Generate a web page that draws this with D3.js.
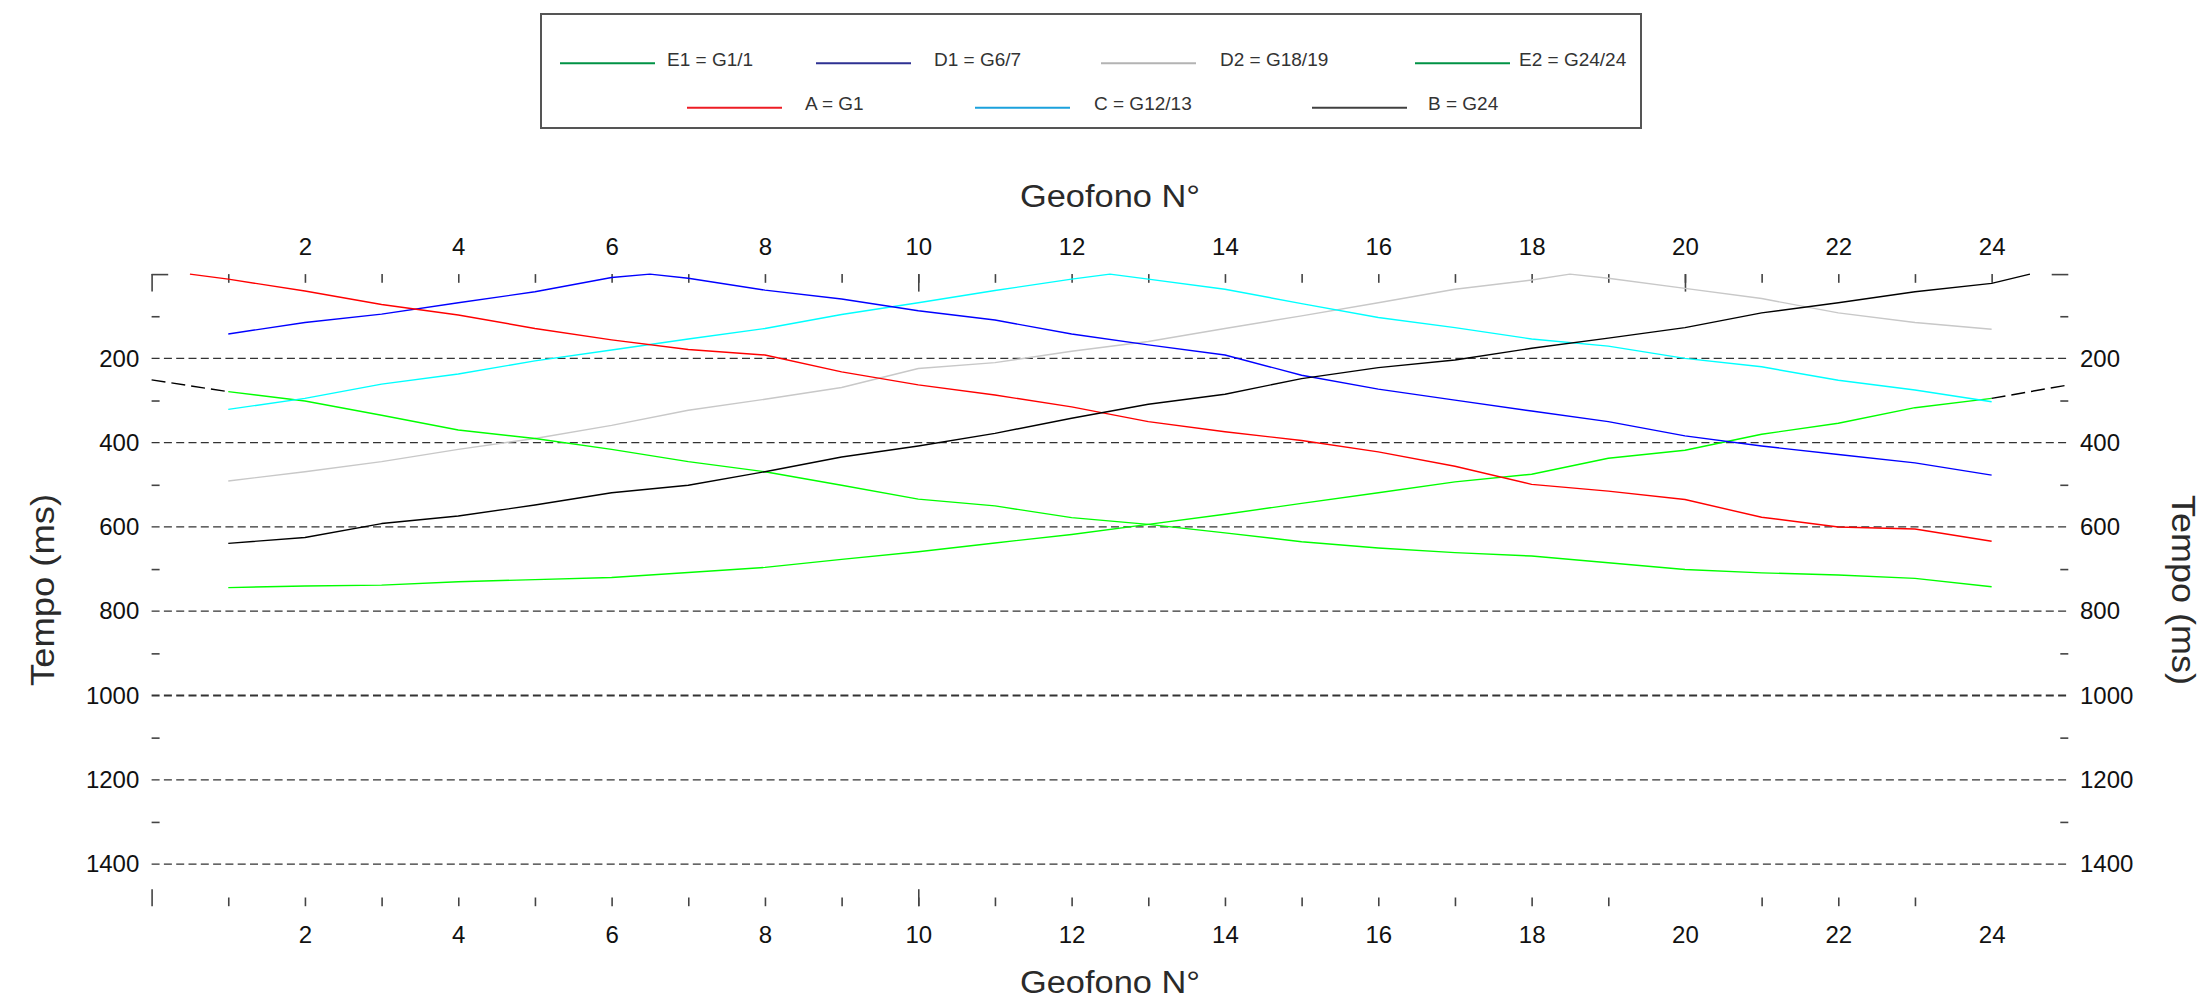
<!DOCTYPE html>
<html>
<head>
<meta charset="utf-8">
<script src="https://cdn.jsdelivr.net/npm/d3@7"></script>
<style>
  html, body { margin: 0; padding: 0; background: #ffffff; }
  svg { display: block; font-family: "Liberation Sans", Arial, sans-serif; }
</style>
</head>
<body>
<svg id="chart" width="2202" height="1001"></svg>
<script>
// ---------------- DATA ----------------
const geofoni = [1,2,3,4,5,6,7,8,9,10,11,12,13,14,15,16,17,18,19,20,21,22,23,24];

// first-arrival times (ms) at geophones 1..24
const timesA  = [12,40,72,97,129,156,179,192,232,263,287,315,350,374,395,422,456,499,515,535,577,600,605,634];
const timesD1 = [142,115,95,68,42,8,10,38,59,87,109,142,168,192,240,273,299,325,350,384,408,428,448,477];
const timesC  = [321,295,261,237,206,180,154,129,96,68,39,12,12,36,70,103,127,154,171,200,220,252,275,303];
const timesD2 = [491,469,445,416,390,359,323,297,269,224,210,183,160,129,99,68,36,14,10,34,58,92,115,131];
const timesB  = [639,625,592,574,548,519,501,469,434,408,378,342,309,285,248,222,204,176,152,127,92,68,42,22];
const timesE1 = [279,301,335,370,390,416,445,469,501,534,550,578,594,614,635,650,661,669,685,701,709,714,722,742];
const timesE2 = [744,740,738,730,725,720,708,696,677,659,638,618,594,570,544,519,493,475,437,418,380,354,317,295];

// shot (source) positions in geophone units, time 0 (null = external shot)
const sourceA  = 0.5;
const sourceD1 = 6.5;
const sourceC  = 12.5;
const sourceD2 = 18.5;
const sourceB  = 24.5;

// dashed extrapolations
const extLeftX  = [0, 1];
const extLeftT  = [251, 279];
const extRightX = [24, 25];
const extRightT = [295, 263];

// legend
const legendRow1Labels = ["E1 = G1/1", "D1 = G6/7", "D2 = G18/19", "E2 = G24/24"];
const legendRow1Colors = ["#009245", "#2e3192", "#b3b3b3", "#009245"];
const legendRow2Labels = ["A = G1", "C = G12/13", "B = G24"];
const legendRow2Colors = ["#ed1c24", "#1ba1dc", "#404040"];

// axes
const xTickLabels = [2,4,6,8,10,12,14,16,18,20,22,24];
const yTickLabels = [200,400,600,800,1000,1200,1400];
const xTitle = "Geofono N°";
const yTitle = "Tempo (ms)";

// ---------------- DRAW ----------------
const svg = d3.select("#chart");
const x = d3.scaleLinear().domain([0, 25]).range([151.6, 2068.3]);
const y = d3.scaleLinear().domain([0, 1500]).range([274.1, 906.2]);

const FONT = 24;
const tickColor = "#444";
const fmt = d3.format("d");

// gridlines
svg.append("g").selectAll("line").data(yTickLabels).join("line")
  .attr("x1", x(0)).attr("x2", x(25))
  .attr("y1", d => y(d)).attr("y2", d => y(d))
  .attr("stroke", "#333").attr("stroke-width", d => d === 1000 ? 1.8 : 1.3)
  .attr("stroke-dasharray", "8,4.3");

function styleAxis(g) {
  g.select(".domain").remove();
  g.selectAll(".tick line").attr("stroke", tickColor).attr("stroke-width", 1.6);
  g.selectAll("text").attr("font-size", FONT).attr("fill", "#111")
    .attr("font-family", "Liberation Sans, Arial, sans-serif");
}

// top axis ticks
const topMinor = d3.range(1, 25);
svg.append("g").attr("transform", `translate(0,${y(0)})`)
  .call(d3.axisTop(x).tickValues(topMinor).tickSize(-8.7).tickFormat(""))
  .call(styleAxis);
svg.append("g").attr("transform", `translate(0,${y(0)})`)
  .call(d3.axisTop(x).tickValues([0, 10, 20]).tickSize(-17.5).tickFormat(""))
  .call(styleAxis);
svg.append("g").attr("transform", `translate(0,${y(0)})`)
  .call(d3.axisTop(x).tickValues(xTickLabels).tickSize(0).tickPadding(19).tickFormat(fmt))
  .call(styleAxis);

// bottom axis ticks
const bottomMinor = d3.range(1, 24).filter(d => d !== 20);
svg.append("g").attr("transform", `translate(0,${y(1500)})`)
  .call(d3.axisBottom(x).tickValues(bottomMinor).tickSize(-8.7).tickFormat(""))
  .call(styleAxis);
svg.append("g").attr("transform", `translate(0,${y(1500)})`)
  .call(d3.axisBottom(x).tickValues([0, 10]).tickSize(-17).tickFormat(""))
  .call(styleAxis);
svg.append("g").attr("transform", `translate(0,${y(1500)})`)
  .call(d3.axisBottom(x).tickValues(xTickLabels).tickSize(0).tickPadding(20).tickFormat(fmt))
  .call(styleAxis);

// left axis
const yMinor = d3.range(100, 1400, 200);
svg.append("g").attr("transform", `translate(${x(0)},0)`)
  .call(d3.axisLeft(y).tickValues(yMinor).tickSize(-8).tickFormat(""))
  .call(styleAxis);
svg.append("g").attr("transform", `translate(${x(0)},0)`)
  .call(d3.axisLeft(y).tickValues([0]).tickSize(-16.6).tickFormat(""))
  .call(styleAxis);
svg.append("g").attr("transform", `translate(${x(0)},0)`)
  .call(d3.axisLeft(y).tickValues(yTickLabels).tickSize(0).tickPadding(12.3).tickFormat(fmt))
  .call(styleAxis);

// right axis
svg.append("g").attr("transform", `translate(${x(25)},0)`)
  .call(d3.axisRight(y).tickValues(yMinor).tickSize(-8).tickFormat(""))
  .call(styleAxis);
svg.append("g").attr("transform", `translate(${x(25)},0)`)
  .call(d3.axisRight(y).tickValues([0]).tickSize(-16.6).tickFormat(""))
  .call(styleAxis);
svg.append("g").attr("transform", `translate(${x(25)},0)`)
  .call(d3.axisRight(y).tickValues(yTickLabels).tickSize(0).tickPadding(11.7).tickFormat(fmt))
  .call(styleAxis);

// series
function buildPoints(times, source) {
  const pts = geofoni.map((g, i) => [g, times[i]]);
  if (source !== null) pts.push([source, 0]);
  return pts.sort((a, b) => a[0] - b[0]);
}
const series = [
  { pts: buildPoints(timesD2, sourceD2), color: "#c8c8c8" },
  { pts: buildPoints(timesE1, null), color: "#00ff00" },
  { pts: buildPoints(timesE2, null), color: "#00ff00" },
  { pts: buildPoints(timesC,  sourceC),  color: "#00ffff" },
  { pts: buildPoints(timesD1, sourceD1), color: "#0000ff" },
  { pts: buildPoints(timesA,  sourceA),  color: "#ff0000" },
  { pts: buildPoints(timesB,  sourceB),  color: "#000000" }
];
const line = d3.line().x(d => x(d[0])).y(d => y(d[1]));
svg.append("g").selectAll("path").data(series).join("path")
  .attr("d", d => line(d.pts))
  .attr("fill", "none")
  .attr("stroke", d => d.color)
  .attr("stroke-width", 1.4)
  .attr("stroke-linejoin", "round");

// dashed extensions
const exts = [extLeftX.map((v, i) => [v, extLeftT[i]]), extRightX.map((v, i) => [v, extRightT[i]])];
svg.append("g").selectAll("path").data(exts).join("path")
  .attr("d", d => line(d))
  .attr("fill", "none").attr("stroke", "#000").attr("stroke-width", 1.4)
  .attr("stroke-dasharray", "14,6");

// axis titles
svg.append("text").attr("x", 1110).attr("y", 207).attr("text-anchor", "middle")
  .attr("font-size", 31).attr("fill", "#2a2a2a")
  .attr("textLength", 180).attr("lengthAdjust", "spacingAndGlyphs").text(xTitle);
svg.append("text").attr("x", 1110).attr("y", 993).attr("text-anchor", "middle")
  .attr("font-size", 31).attr("fill", "#2a2a2a")
  .attr("textLength", 180).attr("lengthAdjust", "spacingAndGlyphs").text(xTitle);
svg.append("text").attr("transform", "translate(42,590) rotate(-90)")
  .attr("text-anchor", "middle").attr("dominant-baseline", "central")
  .attr("font-size", 34).attr("fill", "#2a2a2a")
  .attr("textLength", 192).attr("lengthAdjust", "spacingAndGlyphs").text(yTitle);
svg.append("text").attr("transform", "translate(2184,590) rotate(90)")
  .attr("text-anchor", "middle").attr("dominant-baseline", "central")
  .attr("font-size", 34).attr("fill", "#2a2a2a")
  .attr("textLength", 190).attr("lengthAdjust", "spacingAndGlyphs").text(yTitle);

// legend
const lg = svg.append("g");
lg.append("rect").attr("x", 541).attr("y", 14).attr("width", 1100).attr("height", 114)
  .attr("fill", "#fff").attr("stroke", "#555").attr("stroke-width", 2);
const row1X = [560, 816, 1101, 1415];
const row1TextX = [667, 934, 1220, 1519];
const row2X = [687, 975, 1312];
const row2TextX = [805, 1094, 1428];
function legendRow(labels, colors, xs, txs, lineY, textY) {
  const g = lg.append("g").selectAll("g").data(labels).join("g");
  g.append("line")
    .attr("x1", (d, i) => xs[i]).attr("x2", (d, i) => xs[i] + 95)
    .attr("y1", lineY).attr("y2", lineY)
    .attr("stroke", (d, i) => colors[i]).attr("stroke-width", 2);
  g.append("text")
    .attr("x", (d, i) => txs[i]).attr("y", textY)
    .attr("font-size", 19).attr("fill", "#333").text(d => d);
}
legendRow(legendRow1Labels, legendRow1Colors, row1X, row1TextX, 63.3, 65.5);
legendRow(legendRow2Labels, legendRow2Colors, row2X, row2TextX, 107.7, 110);
</script>
</body>
</html>
